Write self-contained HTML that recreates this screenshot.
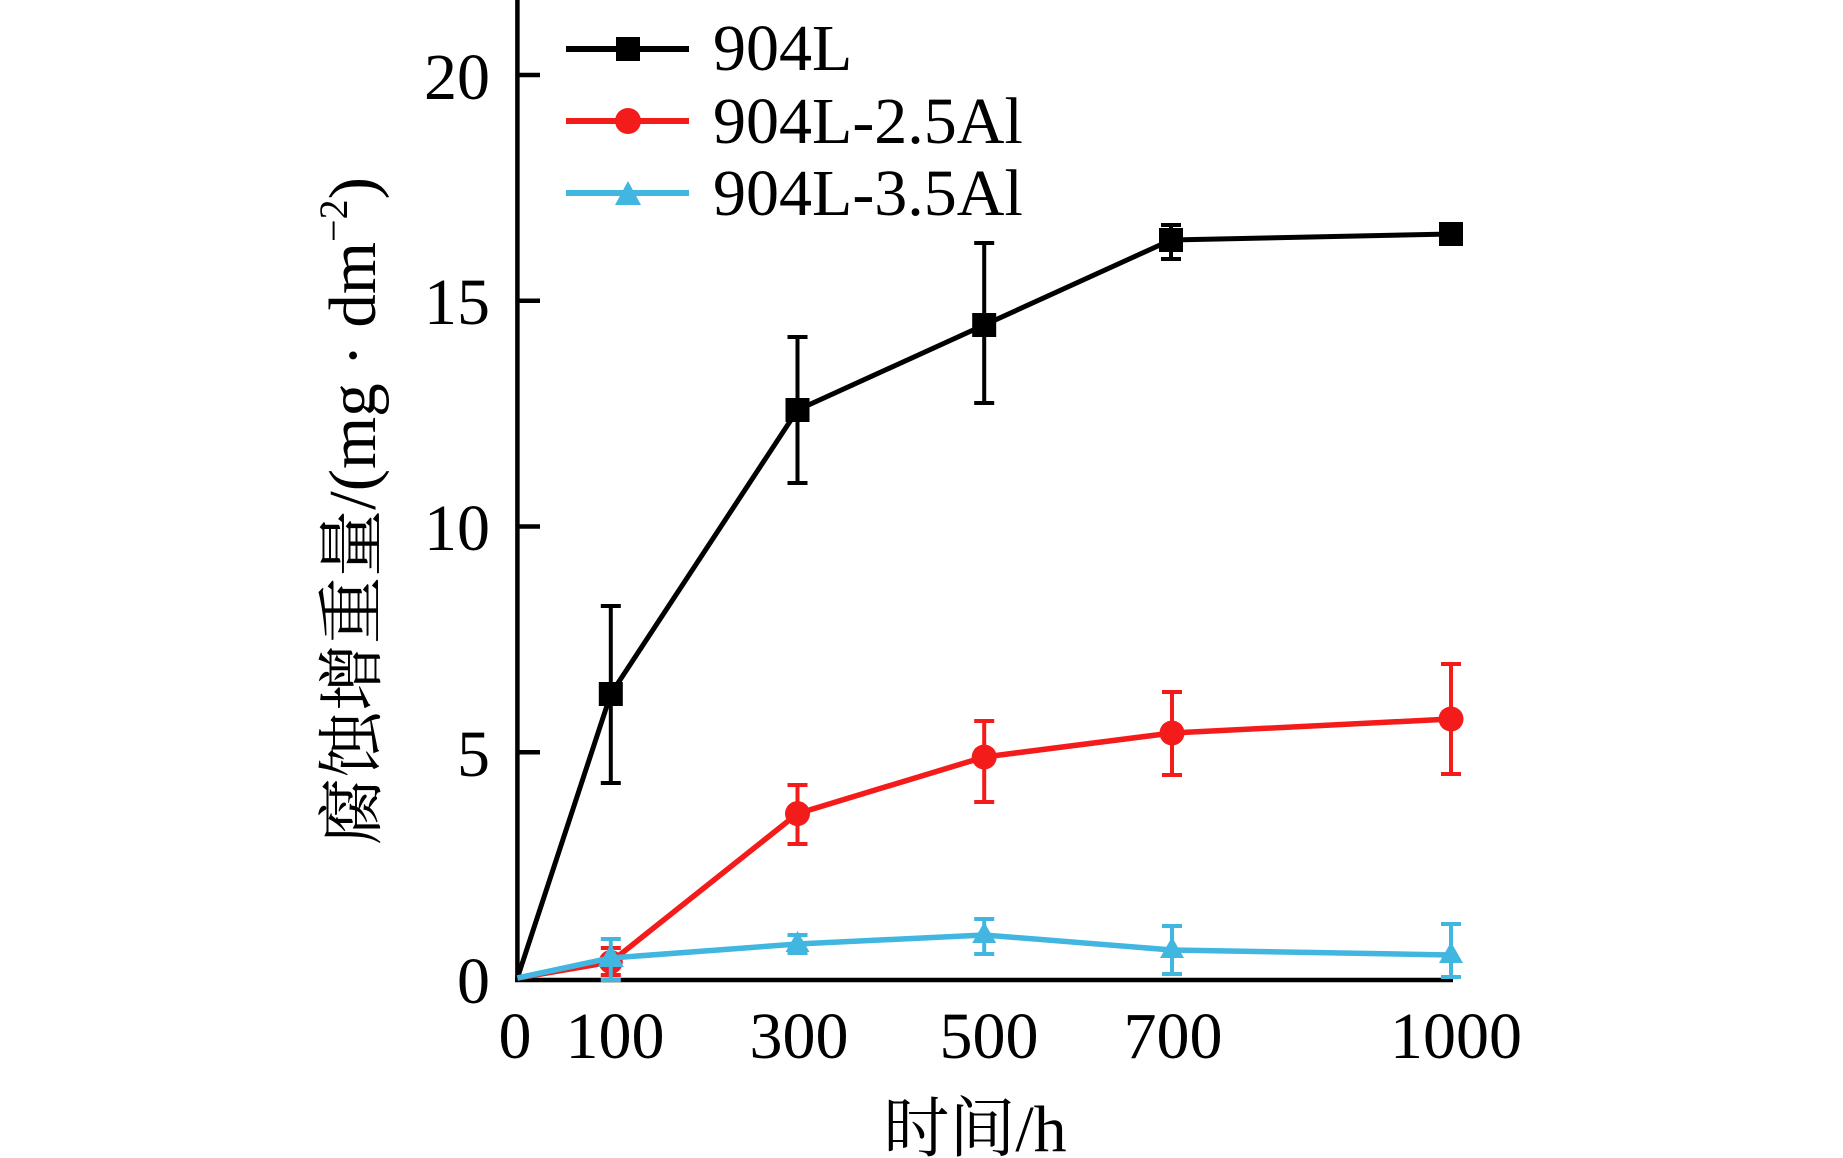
<!DOCTYPE html>
<html>
<head>
<meta charset="utf-8">
<style>
  html,body{margin:0;padding:0;background:#fff;}
  svg{display:block;}
  text{font-family:"Liberation Serif","Noto Serif CJK SC",serif;fill:#000;}
</style>
</head>
<body>
<svg width="1843" height="1158" viewBox="0 0 1843 1158" xmlns="http://www.w3.org/2000/svg">
  <rect width="1843" height="1158" fill="#fff"/>

  <!-- axes -->
  <line x1="517.4" y1="0" x2="517.4" y2="982" stroke="#000" stroke-width="4.5"/>
  <line x1="515" y1="980" x2="1453" y2="980" stroke="#000" stroke-width="4.5"/>
  <!-- y ticks -->
  <g stroke="#000" stroke-width="4.5">
    <line x1="517" y1="75" x2="540" y2="75"/>
    <line x1="517" y1="300.7" x2="540" y2="300.7"/>
    <line x1="517" y1="526.5" x2="540" y2="526.5"/>
    <line x1="517" y1="752.2" x2="540" y2="752.2"/>
  </g>
  <!-- y tick labels -->
  <g font-size="66" text-anchor="end">
    <text x="490" y="99">20</text>
    <text x="490" y="324">15</text>
    <text x="490" y="550">10</text>
    <text x="490" y="776">5</text>
    <text x="490" y="1003">0</text>
  </g>
  <!-- x tick labels -->
  <g font-size="66" text-anchor="middle">
    <text x="515" y="1058">0</text>
    <text x="615" y="1058">100</text>
    <text x="799" y="1058">300</text>
    <text x="989" y="1058">500</text>
    <text x="1173" y="1058">700</text>
    <text x="1456" y="1058">1000</text>
  </g>
  <!-- axis titles -->
  <text x="975" y="1151" font-size="66" text-anchor="middle">时间/h</text>
  <text transform="translate(375,511) rotate(-90)" font-size="67" text-anchor="middle">腐蚀增重量/(mg · dm<tspan font-size="40" dy="-28">−2</tspan><tspan dy="28">)</tspan></text>

  <!-- black series 904L -->
  <g stroke="#000" stroke-width="4" fill="none">
    <line x1="610.8" y1="606" x2="610.8" y2="783"/><line x1="600.8" y1="606" x2="620.8" y2="606"/><line x1="600.8" y1="783" x2="620.8" y2="783"/>
    <line x1="797.5" y1="337" x2="797.5" y2="483"/><line x1="787.5" y1="337" x2="807.5" y2="337"/><line x1="787.5" y1="483" x2="807.5" y2="483"/>
    <line x1="984.2" y1="243" x2="984.2" y2="403"/><line x1="974.2" y1="243" x2="994.2" y2="243"/><line x1="974.2" y1="403" x2="994.2" y2="403"/>
    <line x1="1171" y1="225" x2="1171" y2="259"/><line x1="1161" y1="225" x2="1181" y2="225"/><line x1="1161" y1="259" x2="1181" y2="259"/>
    <line x1="1451" y1="226" x2="1451" y2="243"/><line x1="1441" y1="226" x2="1461" y2="226"/><line x1="1441" y1="243" x2="1461" y2="243"/>
  </g>
  <polyline points="517.4,978 610.8,694 797.5,410 984.2,325 1171,240 1451,234" fill="none" stroke="#000" stroke-width="5" stroke-linejoin="round"/>
  <g fill="#000">
    <rect x="598.8" y="682" width="24" height="24"/>
    <rect x="785.5" y="398" width="24" height="24"/>
    <rect x="972.2" y="313" width="24" height="24"/>
    <rect x="1159" y="228" width="24" height="24"/>
    <rect x="1439" y="222" width="24" height="24"/>
  </g>

  <!-- red series 904L-2.5Al -->
  <g stroke="#f41b1b" stroke-width="4" fill="none">
    <line x1="610.8" y1="948" x2="610.8" y2="975"/><line x1="600.8" y1="948" x2="620.8" y2="948"/><line x1="600.8" y1="975" x2="620.8" y2="975"/>
    <line x1="797.5" y1="785" x2="797.5" y2="844"/><line x1="787.5" y1="785" x2="807.5" y2="785"/><line x1="787.5" y1="844" x2="807.5" y2="844"/>
    <line x1="984.2" y1="721" x2="984.2" y2="802"/><line x1="974.2" y1="721" x2="994.2" y2="721"/><line x1="974.2" y1="802" x2="994.2" y2="802"/>
    <line x1="1172" y1="692" x2="1172" y2="775"/><line x1="1162" y1="692" x2="1182" y2="692"/><line x1="1162" y1="775" x2="1182" y2="775"/>
    <line x1="1451" y1="664" x2="1451" y2="774"/><line x1="1441" y1="664" x2="1461" y2="664"/><line x1="1441" y1="774" x2="1461" y2="774"/>
  </g>
  <polyline points="517.4,978 610.8,962 797.5,813.6 984.2,757 1172,733 1451,719" fill="none" stroke="#f41b1b" stroke-width="5.5" stroke-linejoin="round"/>
  <g fill="#f41b1b">
    <circle cx="610.8" cy="962" r="12"/>
    <circle cx="797.5" cy="813.6" r="12.5"/>
    <circle cx="984.2" cy="757" r="12.5"/>
    <circle cx="1172" cy="733" r="12.5"/>
    <circle cx="1451" cy="719" r="12.5"/>
  </g>

  <!-- cyan series 904L-3.5Al -->
  <g stroke="#41b6e0" stroke-width="4" fill="none">
    <line x1="610.8" y1="939" x2="610.8" y2="980"/><line x1="600.8" y1="939" x2="620.8" y2="939"/><line x1="600.8" y1="980" x2="620.8" y2="980"/>
    <line x1="797.5" y1="935" x2="797.5" y2="953"/><line x1="787.5" y1="935" x2="807.5" y2="935"/><line x1="787.5" y1="953" x2="807.5" y2="953"/>
    <line x1="984.2" y1="919" x2="984.2" y2="954"/><line x1="974.2" y1="919" x2="994.2" y2="919"/><line x1="974.2" y1="954" x2="994.2" y2="954"/>
    <line x1="1172" y1="926" x2="1172" y2="974"/><line x1="1162" y1="926" x2="1182" y2="926"/><line x1="1162" y1="974" x2="1182" y2="974"/>
    <line x1="1451" y1="924" x2="1451" y2="977"/><line x1="1441" y1="924" x2="1461" y2="924"/><line x1="1441" y1="977" x2="1461" y2="977"/>
  </g>
  <polyline points="517.4,978 610.8,958 797.5,944 984.2,935 1172,950 1451,955" fill="none" stroke="#41b6e0" stroke-width="5.5" stroke-linejoin="round"/>
  <g fill="#41b6e0">
    <polygon points="610.8,944 623.8,967 597.8,967"/>
    <polygon points="797.5,931 809.5,952 785.5,952"/>
    <polygon points="984.2,922 996.2,943 972.2,943"/>
    <polygon points="1172,937 1184,958 1160,958"/>
    <polygon points="1451,942 1463,963 1439,963"/>
  </g>

  <!-- legend -->
  <line x1="566" y1="49" x2="689" y2="49" stroke="#000" stroke-width="6"/>
  <rect x="616" y="37" width="24" height="24" fill="#000"/>
  <text x="713" y="70" font-size="66">904L</text>

  <line x1="566" y1="121" x2="689" y2="121" stroke="#f41b1b" stroke-width="6"/>
  <circle cx="628" cy="121" r="13" fill="#f41b1b"/>
  <text x="713" y="143" font-size="66">904L-2.5Al</text>

  <line x1="566" y1="193" x2="689" y2="193" stroke="#41b6e0" stroke-width="6"/>
  <polygon points="628,181 641,205 615,205" fill="#41b6e0"/>
  <text x="713" y="215" font-size="66">904L-3.5Al</text>
</svg>
</body>
</html>
